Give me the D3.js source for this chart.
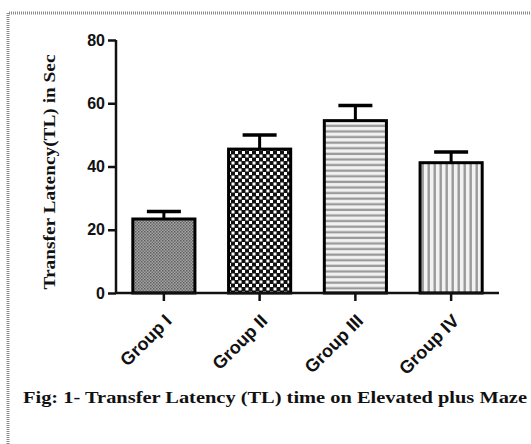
<html>
<script src='https://d3js.org/d3.v7.min.js'></script>
<style>
body {margin:0; background:#fff;}
.tick text {font-family:'Liberation Sans',Arial,sans-serif; font-weight:bold; font-size:16px; fill:#111;}
</style>
<body onload='init()'>
<svg width=531 height=444></svg>
<script>
var groups = ["Group I", "Group II", "Group III", "Group IV"];
var means = [23.4, 45.5, 54.5, 41.2];
var errors = [2.4, 4.5, 4.8, 3.4];
var yTicks = [0, 20, 40, 60, 80];
var fills = ["url(#p1)", "url(#p2)", "url(#p3)", "url(#p4)"];

function init() {
var svg = d3.select('svg');
svg.append('rect').attr('width', 531).attr('height', 444).attr('fill', '#fff');

// patterns
var defs = svg.append('defs');
var p1 = defs.append('pattern').attr('id','p1').attr('width',3).attr('height',3).attr('patternUnits','userSpaceOnUse');
p1.append('rect').attr('width',3).attr('height',3).attr('fill','#a4a4a4');
p1.append('rect').attr('width',1.5).attr('height',1.5).attr('fill','#5e5e5e');
p1.append('rect').attr('x',1.5).attr('y',1.5).attr('width',1.5).attr('height',1.5).attr('fill','#6e6e6e');

var p2 = defs.append('pattern').attr('id','p2').attr('width',7).attr('height',7).attr('patternUnits','userSpaceOnUse');
p2.append('rect').attr('width',7).attr('height',7).attr('fill','#111');
p2.append('rect').attr('x',0.5).attr('y',0.5).attr('width',3).attr('height',3).attr('fill','#fff');
p2.append('rect').attr('x',4).attr('y',4).attr('width',3).attr('height',3).attr('fill','#fff');

var p3 = defs.append('pattern').attr('id','p3').attr('width',10).attr('height',5.6).attr('patternUnits','userSpaceOnUse');
p3.append('rect').attr('width',10).attr('height',5.6).attr('fill','#f2f2f2');
p3.append('rect').attr('y',1.5).attr('width',10).attr('height',2.3).attr('fill','#9a9a9a');

var p4 = defs.append('pattern').attr('id','p4').attr('width',6).attr('height',10).attr('patternUnits','userSpaceOnUse');
p4.append('rect').attr('width',6).attr('height',10).attr('fill','#f2f2f2');
p4.append('rect').attr('x',1.5).attr('width',2.4).attr('height',10).attr('fill','#9a9a9a');

// dotted frame
svg.append('path').attr('d','M8,444 L8,13 L531,13')
  .attr('fill','none').attr('stroke','#8a8a8a').attr('stroke-width',3).attr('stroke-dasharray','1,1');

var xScale = d3.scaleBand().domain(groups).range([116, 499]).paddingInner(0.32).paddingOuter(0.16);
var yScale = d3.scaleLinear().domain([0, 80]).range([293, 40]);

var g = svg.append('g');

// bars
g.selectAll('rect.bar').data(groups).enter().append('rect')
  .attr('class','bar')
  .attr('x', function(d){ return xScale(d) + 1.5; })
  .attr('y', function(d,i){ return yScale(means[i]); })
  .attr('width', xScale.bandwidth() - 3)
  .attr('height', function(d,i){ return yScale(0) - yScale(means[i]); })
  .attr('fill', function(d,i){ return fills[i]; })
  .attr('stroke','#000').attr('stroke-width',3);

// error bars
g.selectAll('line.err').data(groups).enter().append('line')
  .attr('x1', function(d){ return xScale(d) + xScale.bandwidth()/2; })
  .attr('x2', function(d){ return xScale(d) + xScale.bandwidth()/2; })
  .attr('y1', function(d,i){ return yScale(means[i]); })
  .attr('y2', function(d,i){ return yScale(means[i] + errors[i]); })
  .attr('stroke','#000').attr('stroke-width',3);
g.selectAll('line.cap').data(groups).enter().append('line')
  .attr('x1', function(d){ return xScale(d) + xScale.bandwidth()/2 - 17; })
  .attr('x2', function(d){ return xScale(d) + xScale.bandwidth()/2 + 17; })
  .attr('y1', function(d,i){ return yScale(means[i] + errors[i]); })
  .attr('y2', function(d,i){ return yScale(means[i] + errors[i]); })
  .attr('stroke','#000').attr('stroke-width',3.5);

// axes
var yAxis = svg.append('g').attr('transform','translate(116,0)')
  .call(d3.axisLeft(yScale).tickValues(yTicks).tickSize(8).tickPadding(3));
var xAxis = svg.append('g').attr('transform','translate(0,293)')
  .call(d3.axisBottom(xScale).tickSize(8).tickSizeOuter(0));
svg.selectAll('.domain, .tick line').attr('stroke','#111').attr('stroke-width',2.5);
yAxis.select('.domain').attr('d','M0,40 V293');
xAxis.select('.domain').attr('d','M116,0 H499');

xAxis.selectAll('.tick text')
  .style('font-size','18px')
  .attr('text-anchor','end')
  .attr('dy', null)
  .attr('transform','translate(9,29) rotate(-45)')
  .attr('y', 0).attr('x', 0);

// y label
svg.append('text')
  .attr('transform','translate(55,172) rotate(-90)')
  .attr('text-anchor','middle')
  .attr('textLength', 235).attr('lengthAdjust','spacingAndGlyphs')
  .style('font-family',"'Liberation Serif','Times New Roman',serif")
  .style('font-weight','bold').style('font-size','17px').attr('fill','#111')
  .text('Transfer Latency(TL) in Sec');

// caption
svg.append('text')
  .attr('x', 23).attr('y', 403)
  .attr('textLength', 504).attr('lengthAdjust','spacingAndGlyphs')
  .style('font-family',"'Liberation Serif','Times New Roman',serif")
  .style('font-weight','bold').style('font-size','17px').attr('fill','#111')
  .text('Fig: 1- Transfer Latency (TL) time on Elevated plus Maze');
}
</script>
</body>
</html>
